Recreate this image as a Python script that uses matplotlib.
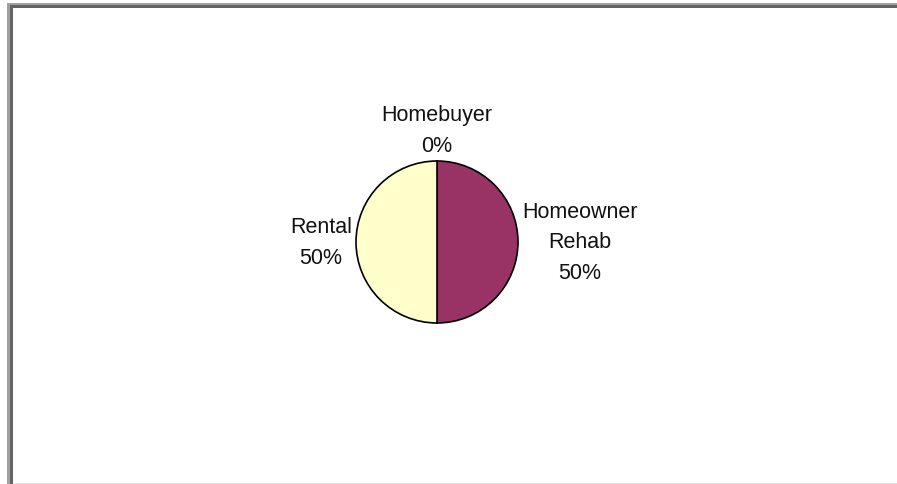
import matplotlib
matplotlib.use("Agg")
import matplotlib.pyplot as plt
from matplotlib.patches import Rectangle
import numpy as np

# data
categories = ["Homebuyer", "Homeowner\nRehab", "Rental"]
values = [0, 50, 50]
colors = ["#CCCCFF", "#993366", "#FFFFCC"]

W, H = 897, 485
plt.rcParams['font.family'] = ['Liberation Sans', 'DejaVu Sans']

fig = plt.figure(figsize=(W / 100, H / 100), dpi=100)
fig.patch.set_facecolor("white")
ax = fig.add_axes([0, 0, 1, 1])

cx, cy, r = 437, H - 243, 81
wedges, _ = ax.pie(values, colors=colors, startangle=90, counterclock=False,
                   radius=r, center=(cx, cy), frame=True,
                   wedgeprops=dict(edgecolor="black", linewidth=1.2))
ax.set_xlim(0, W)
ax.set_ylim(0, H)
ax.set_aspect("equal")
ax.axis("off")

total = sum(values)
gaps = [5, 4, 4]
for w, cat, v, g in zip(wedges, categories, values, gaps):
    ang = np.deg2rad((w.theta1 + w.theta2) / 2)
    dx, dy = np.cos(ang), np.sin(ang)
    x = cx + (r + g) * dx
    y = cy + (r + g) * dy
    if abs(dx) < 0.3:
        ha = "center"
    else:
        ha = "left" if dx > 0 else "right"
    if abs(dy) < 0.3:
        va = "center"
    else:
        va = "bottom" if dy > 0 else "top"
    ax.text(x, y, f"{cat}\n{v / total * 100:.0f}%", ha=ha, va=va,
            multialignment="center", fontsize=15.5, linespacing=1.6,
            color="#111111")

# window frame
def px_rect(x0, y0, x1, y1, color):
    fig.patches.append(Rectangle((x0 / W, 1 - y1 / H), (x1 - x0) / W, (y1 - y0) / H,
                                 transform=fig.transFigure, facecolor=color,
                                 edgecolor="none"))

px_rect(7, 4, W, 6, "#a0a0a0")
px_rect(10, 6, W, 8.5, "#646464")
px_rect(7, 4, 10, H, "#a0a0a0")
px_rect(10, 6, 12.7, H, "#646464")
px_rect(12.7, 483.5, W, H, "#e6e6e6")

fig.savefig("out.png", dpi=100)
